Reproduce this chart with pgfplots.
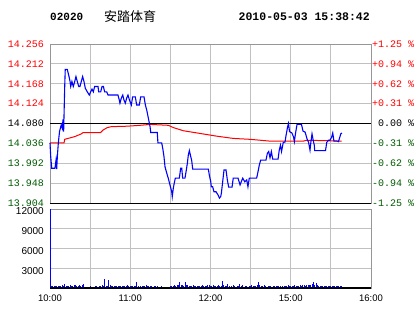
\documentclass[border=0pt]{standalone}
\usepackage{fontspec}
\setmainfont{Liberation Sans}
\newfontfamily\mono{Liberation Mono}
\newfontfamily\cjk{Noto Sans CJK SC}
\usepackage{pgfplots}
\pgfplotsset{compat=1.18}
\definecolor{dgreen}{RGB}{0,90,0}
\definecolor{gridc}{RGB}{192,192,192}
\definecolor{framec}{RGB}{150,150,150}
\definecolor{pblue}{RGB}{0,0,255}
\definecolor{pred}{RGB}{255,0,0}
\begin{document}
\begin{tikzpicture}
\useasboundingbox (0,0) rectangle (414pt,-314pt);
\node[anchor=west, font=\mono\bfseries\fontsize{11}{13}\selectfont, inner sep=0pt] at (50pt,-17pt) {02020};
\node[anchor=west, font=\cjk\fontsize{13}{15}\selectfont, inner sep=0pt] at (104pt,-16.5pt) {安踏体育};
\node[anchor=east, font=\mono\bfseries\fontsize{11.5}{13}\selectfont, inner sep=0pt] at (370pt,-17pt) {2010-05-03 15:38:42};

\begin{axis}[
  at={(50pt,-44pt)}, anchor=north west,
  width=321pt, height=159pt, scale only axis,
  xmin=0, xmax=240, ymin=13.904, ymax=14.256,
  xtick={0,30,...,240}, xticklabels={},
  ytick={13.904,13.948,13.992,14.036,14.080,14.124,14.168,14.212,14.256},
  yticklabels={\textcolor{dgreen}{13.904},\textcolor{dgreen}{13.948},\textcolor{dgreen}{13.992},\textcolor{dgreen}{14.036},\textcolor{black}{14.080},\textcolor{pred}{14.124},\textcolor{pred}{14.168},\textcolor{pred}{14.212},\textcolor{pred}{14.256}},
  yticklabel style={font=\mono\fontsize{10}{12}\selectfont, inner sep=0pt, xshift=-6pt},
  grid=major, major grid style={gridc, line width=0.8pt},
  axis line style={framec, line width=0.8pt},
  major tick length=0pt,
  clip=false,
]
\addplot[black, line width=0.9pt] coordinates {(0,14.080) (240,14.080)};
\addplot[black, line width=1pt] coordinates {(0,13.904) (240,13.904)};
\addplot[pred, line width=1pt] table {
t p
0 14.037
10.5 14.037
11 14.045
13.5 14.047
18.5 14.051
23.4 14.057
24.7 14.060
37.8 14.060
39.9 14.066
42.9 14.071
45.8 14.073
57.4 14.074
67.3 14.076
74.8 14.078
88.5 14.076
92.2 14.071
99.7 14.064
112.2 14.058
124.6 14.052
137.0 14.047
149.5 14.045
164.5 14.041
189.4 14.041
192.0 14.043
218.1 14.041
};
\addplot[pblue, line width=1.1pt] table {
t p
0 14.037
0.5 14.008
1.3 13.981
3.7 13.981
4.5 13.999
5.0 13.979
5.5 14.007
6.2 14.036
7.1 14.062
8.4 14.077
9.2 14.069
9.7 14.089
10.2 14.062
11.0 14.162
11.4 14.200
12.9 14.200
14.0 14.187
15.0 14.173
15.5 14.162
16.4 14.173
17.4 14.162
18.5 14.173
19.4 14.184
20.4 14.173
21.5 14.162
22.4 14.162
23.4 14.173
24.4 14.184
25.4 14.173
26.4 14.158
27.9 14.150
29.4 14.143
30.4 14.150
31.4 14.156
32.4 14.150
33.4 14.162
35.9 14.162
36.4 14.150
37.9 14.150
38.9 14.162
39.9 14.162
40.9 14.150
42.4 14.150
43.4 14.143
50.8 14.143
51.8 14.132
52.3 14.125
53.3 14.136
54.4 14.143
55.3 14.132
56.3 14.125
57.3 14.136
58.3 14.143
59.4 14.132
60.8 14.121
61.8 14.139
63.8 14.139
64.8 14.121
66.8 14.121
67.8 14.139
70.3 14.139
71.3 14.121
72.3 14.110
73.8 14.088
74.8 14.073
75.3 14.060
80.2 14.060
80.7 14.037
83.5 14.037
84.3 14.025
85.2 14.007
86.0 13.984
87.3 13.970
88.4 13.959
89.7 13.944
91.0 13.929
91.4 13.918
92.2 13.937
92.9 13.948
93.7 13.959
96.7 13.959
97.7 13.981
98.5 13.981
99.2 13.959
100.9 13.959
101.7 13.973
102.7 13.992
103.4 14.010
104.2 14.020
105.2 14.007
105.9 13.999
106.7 13.979
118.4 13.979
119.1 13.966
120.2 13.951
120.6 13.940
121.6 13.940
122.6 13.929
124.1 13.929
125.6 13.922
126.7 13.915
127.6 13.918
128.1 13.925
129.1 13.951
130.1 13.977
131.6 13.977
132.6 13.955
133.6 13.939
136.1 13.939
137.0 13.959
140.6 13.959
142.1 13.944
143.0 13.951
144.1 13.959
145.6 13.951
147.1 13.955
148.0 13.940
149.0 13.959
154.5 13.959
155.5 13.973
156.5 13.988
157.5 13.999
161.5 13.999
162.5 14.014
163.5 14.018
164.5 14.004
165.5 14.018
166.5 14.001
170.5 14.001
171.4 14.021
172.3 14.032
173.1 14.018
174.4 14.038
175.7 14.039
176.4 14.052
177.6 14.072
178.3 14.080
179.1 14.062
180.9 14.059
182.1 14.050
182.7 14.040
183.6 14.059
184.7 14.078
188.0 14.078
189.2 14.063
190.7 14.061
191.8 14.050
192.5 14.043
193.3 14.039
193.9 14.029
194.4 14.021
195.1 14.040
195.9 14.057
196.9 14.041
197.6 14.032
197.9 14.020
206.0 14.020
206.9 14.038
208.1 14.043
209.3 14.043
210.5 14.049
211.4 14.059
212.3 14.041
215.0 14.041
215.7 14.040
216.5 14.048
217.4 14.057
218.3 14.059
};
\end{axis}

\begin{axis}[
  at={(50pt,-44pt)}, anchor=north west,
  width=321pt, height=159pt, scale only axis,
  xmin=0, xmax=240, ymin=13.904, ymax=14.256,
  hide x axis, axis y line*=right,
  y axis line style={framec, line width=0.8pt},
  ytick={13.904,13.948,13.992,14.036,14.080,14.124,14.168,14.212,14.256},
  yticklabels={\textcolor{dgreen}{-1.25 \%},\textcolor{dgreen}{-0.94 \%},\textcolor{dgreen}{-0.62 \%},\textcolor{dgreen}{-0.31 \%},\textcolor{black}{\ 0.00 \%},\textcolor{pred}{+0.31 \%},\textcolor{pred}{+0.62 \%},\textcolor{pred}{+0.94 \%},\textcolor{pred}{+1.25 \%}},
  yticklabel style={font=\mono\fontsize{10}{12}\selectfont, inner sep=0pt, anchor=west, xshift=1pt},
  major tick length=0pt,
]
\addplot[draw=none] coordinates {(0,14.08)};
\end{axis}

\begin{axis}[
  at={(50pt,-209pt)}, anchor=north west,
  width=321pt, height=79pt, scale only axis,
  xmin=0, xmax=240, ymin=0, ymax=12000,
  xtick={0,30,...,240},
  xticklabels={10:00,,11:00,,12:00,,15:00,,16:00},
  ytick={0,3000,6000,9000,12000},
  yticklabels={,3000,6000,9000,12000},
  scaled y ticks=false,
  yticklabel style={font=\fontsize{10}{12}\selectfont, inner sep=0pt, xshift=-6pt, yshift=-2.5pt},
  xticklabel style={font=\fontsize{9.5}{11}\selectfont, inner sep=0pt, yshift=-6.5pt},
  grid=major, major grid style={gridc, line width=0.8pt},
  axis line style={framec, line width=0.8pt},
  major tick length=0pt,
  clip=false,
]
\addplot[ycomb, pblue, line width=1pt] table {
t v
0 12000
1 300
2 250
3 300
4 350
5 250
6 300
7 300
8 350
9 400
10 300
11 650
12 300
13 250
14 300
15 450
16 350
17 300
18 400
19 500
20 350
21 300
22 450
23 350
24 400
25 650
26 0
27 0
28 0
29 0
30 300
31 0
32 0
33 0
34 300
35 350
36 0
37 300
38 300
39 400
40 350
41 1400
42 300
43 350
44 1270
45 400
46 300
47 300
48 350
49 300
50 300
51 250
52 350
53 300
54 300
55 300
56 250
57 300
58 400
59 350
60 300
61 300
62 250
63 300
64 350
65 850
66 300
67 0
68 300
69 350
70 300
71 300
72 400
73 300
74 250
75 350
76 300
77 0
78 300
79 300
80 350
81 0
82 0
83 300
84 0
85 0
86 0
87 0
88 0
89 0
90 300
91 350
92 300
93 400
94 300
95 450
96 500
97 850
98 400
99 450
100 300
101 900
102 450
103 400
104 300
105 350
106 300
107 400
108 300
109 250
110 350
111 300
112 300
113 350
114 400
115 300
116 300
117 350
118 450
119 400
120 350
121 300
122 400
123 300
124 250
125 350
126 400
127 300
128 350
129 1100
130 400
131 300
132 300
133 650
134 350
135 0
136 300
137 400
138 300
139 0
140 300
141 350
142 650
143 300
144 400
145 0
146 300
147 300
148 0
149 350
150 300
151 400
152 300
153 350
154 300
155 400
156 850
157 450
158 300
159 350
160 400
161 300
162 0
163 300
164 350
165 300
166 0
167 300
168 300
169 350
170 300
171 350
172 300
173 0
174 300
175 350
176 300
177 300
178 400
179 350
180 300
181 300
182 350
183 400
184 300
185 350
186 300
187 400
188 350
189 450
190 400
191 350
192 450
193 400
194 500
195 450
196 600
197 900
198 400
199 780
200 450
201 350
202 300
203 350
204 300
205 300
206 350
207 300
208 300
209 350
210 300
211 300
212 350
213 300
214 300
215 350
216 300
217 300
218 300
};
\addplot[black, line width=1.2pt] coordinates {(0,0) (240,0)};
\end{axis}
\end{tikzpicture}
\end{document}
